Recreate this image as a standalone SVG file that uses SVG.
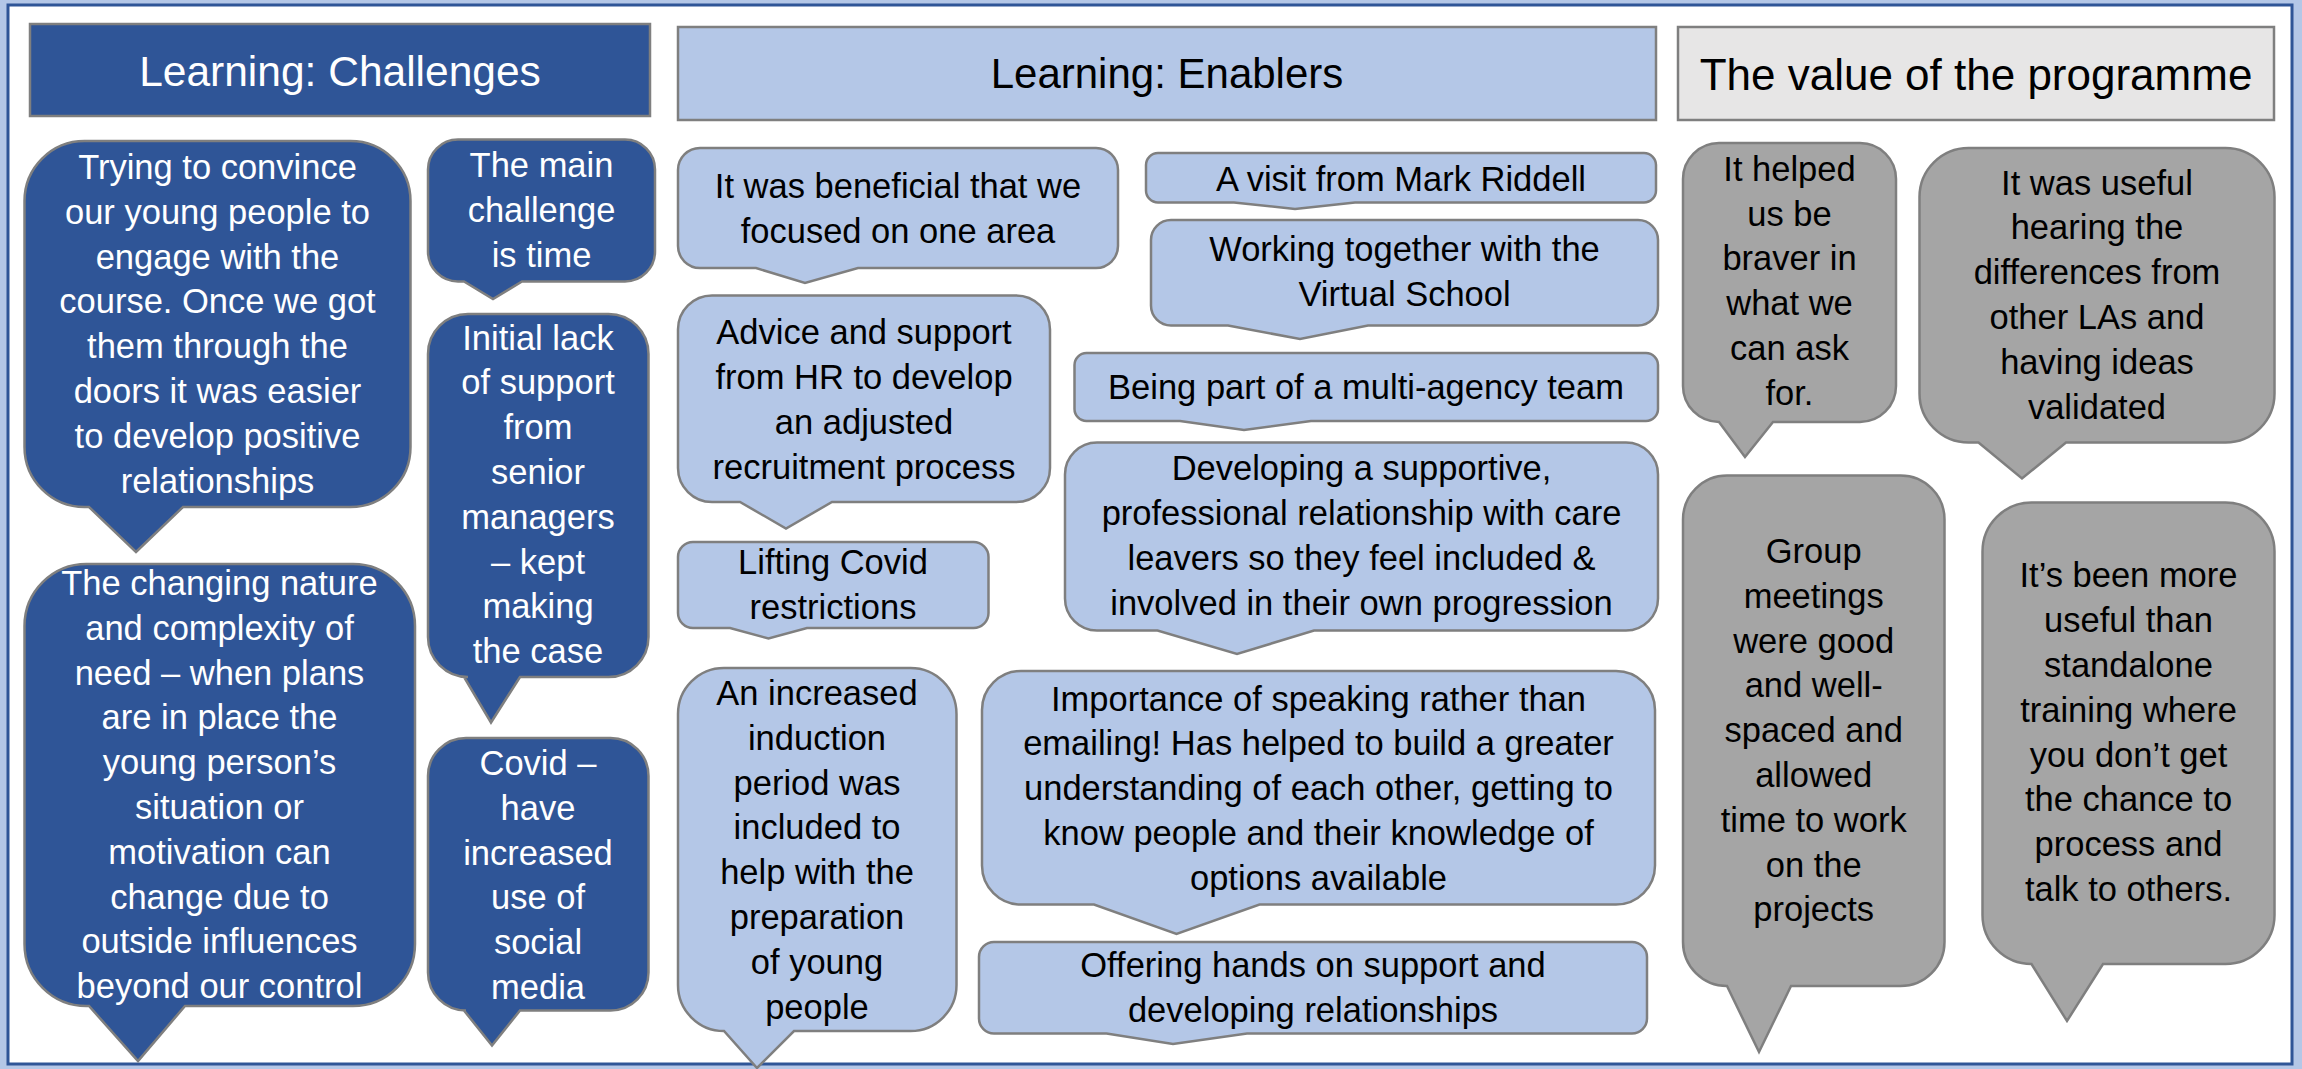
<svg xmlns="http://www.w3.org/2000/svg" width="2302" height="1069" viewBox="0 0 2302 1069">
<style>
.dk{fill:#2F5597;stroke:#7F7F7F;stroke-width:2.5}
.lt{fill:#B4C7E7;stroke:#7F7F7F;stroke-width:2.5}
.gy{fill:#A5A5A5;stroke:#7F7F7F;stroke-width:2.5}
.hg{fill:#E7E6E6;stroke:#7F7F7F;stroke-width:2.5}
text{font-family:"Liberation Sans",Arial,sans-serif;font-size:34.5px;text-anchor:middle;fill:#000}
.w{fill:#FFFFFF}
</style>
<rect x="0" y="0" width="2302" height="1069" fill="#B4C7E7"/>
<rect x="8" y="5" width="2284" height="1059" fill="#FFFFFF" stroke="#2F5597" stroke-width="3"/>
<g id="connectors"/>
<g id="header-challenges">
<rect class="dk" x="30" y="24" width="620" height="92"/>
<text class="w" x="340" y="86" style="font-size:42.5px">Learning: Challenges</text>
</g>
<g id="header-enablers">
<rect class="lt" x="678" y="27" width="978" height="93"/>
<text x="1167" y="88" style="font-size:42px">Learning: Enablers</text>
</g>
<g id="header-value">
<rect class="hg" x="1678" y="27" width="596" height="93"/>
<text x="1976" y="90" style="font-size:44px">The value of the programme</text>
</g>
<g id="c1">
<path class="dk" d="M84.5,141 H350.5 A60,60 0 0 1 410.5,201 V447 A60,60 0 0 1 350.5,507 H183 L136,552 L89,507 H84.5 A60,60 0 0 1 24.5,447 V201 A60,60 0 0 1 84.5,141 Z"/>
<text class="w"><tspan x="217.5" y="179">Trying to convince</tspan><tspan x="217.5" y="223.8">our young people to</tspan><tspan x="217.5" y="268.6">engage with the</tspan><tspan x="217.5" y="313.4">course. Once we got</tspan><tspan x="217.5" y="358.2">them through the</tspan><tspan x="217.5" y="403">doors it was easier</tspan><tspan x="217.5" y="447.8">to develop positive</tspan><tspan x="217.5" y="492.6">relationships</tspan></text>
</g>
<g id="c2">
<path class="dk" d="M458,139.5 H625 A30,30 0 0 1 655,169.5 V251.5 A30,30 0 0 1 625,281.5 H522 L493,299 L464,281.5 H458 A30,30 0 0 1 428,251.5 V169.5 A30,30 0 0 1 458,139.5 Z"/>
<text class="w"><tspan x="541.5" y="177">The main</tspan><tspan x="541.5" y="222">challenge</tspan><tspan x="541.5" y="267">is time</tspan></text>
</g>
<g id="c3">
<path class="dk" d="M468,314 H608.5 A40,40 0 0 1 648.5,354 V637 A40,40 0 0 1 608.5,677 H520 L491,722.5 L464,677 H468 A40,40 0 0 1 428,637 V354 A40,40 0 0 1 468,314 Z"/>
<text class="w"><tspan x="538" y="349.6">Initial lack</tspan><tspan x="538" y="394.4">of support</tspan><tspan x="538" y="439.2">from</tspan><tspan x="538" y="484">senior</tspan><tspan x="538" y="528.8">managers</tspan><tspan x="538" y="573.6">– kept</tspan><tspan x="538" y="618.4">making</tspan><tspan x="538" y="663.2">the case</tspan></text>
</g>
<g id="c4">
<path class="dk" d="M86.5,564 H353 A62,62 0 0 1 415,626 V944 A62,62 0 0 1 353,1006 H185 L138,1061 L89,1006 H86.5 A62,62 0 0 1 24.5,944 V626 A62,62 0 0 1 86.5,564 Z"/>
<text class="w"><tspan x="219.5" y="595">The changing nature</tspan><tspan x="219.5" y="639.8">and complexity of</tspan><tspan x="219.5" y="684.6">need – when plans</tspan><tspan x="219.5" y="729.4">are in place the</tspan><tspan x="219.5" y="774.2">young person’s</tspan><tspan x="219.5" y="819">situation or</tspan><tspan x="219.5" y="863.8">motivation can</tspan><tspan x="219.5" y="908.6">change due to</tspan><tspan x="219.5" y="953.4">outside influences</tspan><tspan x="219.5" y="998.2">beyond our control</tspan></text>
</g>
<g id="c5">
<path class="dk" d="M466,738 H610.5 A38,38 0 0 1 648.5,776 V972.5 A38,38 0 0 1 610.5,1010.5 H520 L492,1045.5 L464,1010.5 H466 A38,38 0 0 1 428,972.5 V776 A38,38 0 0 1 466,738 Z"/>
<text class="w"><tspan x="538" y="775">Covid –</tspan><tspan x="538" y="819.8">have</tspan><tspan x="538" y="864.6">increased</tspan><tspan x="538" y="909.4">use of</tspan><tspan x="538" y="954.2">social</tspan><tspan x="538" y="999">media</tspan></text>
</g>
<g id="e1">
<path class="lt" d="M700,148 H1096 A22,22 0 0 1 1118,170 V246 A22,22 0 0 1 1096,268 H858 L805,283 L756,268 H700 A22,22 0 0 1 678,246 V170 A22,22 0 0 1 700,148 Z"/>
<text><tspan x="898" y="198">It was beneficial that we</tspan><tspan x="898" y="243">focused on one area</tspan></text>
</g>
<g id="e2">
<path class="lt" d="M1158,153 H1644 A12,12 0 0 1 1656,165 V190.5 A12,12 0 0 1 1644,202.5 H1355 L1295,209 L1234,202.5 H1158 A12,12 0 0 1 1146,190.5 V165 A12,12 0 0 1 1158,153 Z"/>
<text x="1401" y="191">A visit from Mark Riddell</text>
</g>
<g id="e3">
<path class="lt" d="M1171,220 H1638 A20,20 0 0 1 1658,240 V305.5 A20,20 0 0 1 1638,325.5 H1368 L1300,339 L1228,325.5 H1171 A20,20 0 0 1 1151,305.5 V240 A20,20 0 0 1 1171,220 Z"/>
<text><tspan x="1404.5" y="260.7">Working together with the</tspan><tspan x="1404.5" y="305.5">Virtual School</tspan></text>
</g>
<g id="e4">
<path class="lt" d="M1086.5,353 H1646 A12,12 0 0 1 1658,365 V409 A12,12 0 0 1 1646,421 H1311 L1244,430 L1180,421 H1086.5 A12,12 0 0 1 1074.5,409 V365 A12,12 0 0 1 1086.5,353 Z"/>
<text x="1366" y="399">Being part of a multi-agency team</text>
</g>
<g id="e5">
<path class="lt" d="M1097,442.5 H1626 A32,32 0 0 1 1658,474.5 V598.5 A32,32 0 0 1 1626,630.5 H1314 L1237,654 L1157.5,630.5 H1097 A32,32 0 0 1 1065,598.5 V474.5 A32,32 0 0 1 1097,442.5 Z"/>
<text><tspan x="1361.5" y="480.4">Developing a supportive,</tspan><tspan x="1361.5" y="525.2">professional relationship with care</tspan><tspan x="1361.5" y="570">leavers so they feel included &amp;</tspan><tspan x="1361.5" y="614.8">involved in their own progression</tspan></text>
</g>
<g id="e6">
<path class="lt" d="M712,295.5 H1016 A34,34 0 0 1 1050,329.5 V468 A34,34 0 0 1 1016,502 H832 L786,528.5 L740,502 H712 A34,34 0 0 1 678,468 V329.5 A34,34 0 0 1 712,295.5 Z"/>
<text><tspan x="864" y="344.4">Advice and support</tspan><tspan x="864" y="389.2">from HR to develop</tspan><tspan x="864" y="434">an adjusted</tspan><tspan x="864" y="478.8">recruitment process</tspan></text>
</g>
<g id="e7">
<path class="lt" d="M693,542 H973.5 A15,15 0 0 1 988.5,557 V613 A15,15 0 0 1 973.5,628 H807 L768.5,638.5 L730,628 H693 A15,15 0 0 1 678,613 V557 A15,15 0 0 1 693,542 Z"/>
<text><tspan x="833" y="574">Lifting Covid</tspan><tspan x="833" y="619">restrictions</tspan></text>
</g>
<g id="e8">
<path class="lt" d="M724,668 H910.5 A46,46 0 0 1 956.5,714 V985 A46,46 0 0 1 910.5,1031 H794 L757,1068 L724,1031 A46,46 0 0 1 678,985 V714 A46,46 0 0 1 724,668 Z"/>
<text><tspan x="817" y="705">An increased</tspan><tspan x="817" y="749.8">induction</tspan><tspan x="817" y="794.6">period was</tspan><tspan x="817" y="839.4">included to</tspan><tspan x="817" y="884.2">help with the</tspan><tspan x="817" y="929">preparation</tspan><tspan x="817" y="973.8">of young</tspan><tspan x="817" y="1018.6">people</tspan></text>
</g>
<g id="e9">
<path class="lt" d="M1021,671 H1616 A39,39 0 0 1 1655,710 V865.5 A39,39 0 0 1 1616,904.5 H1259.5 L1176.5,934 L1094,904.5 H1021 A39,39 0 0 1 982,865.5 V710 A39,39 0 0 1 1021,671 Z"/>
<text><tspan x="1318.5" y="710.5">Importance of speaking rather than</tspan><tspan x="1318.5" y="755.3">emailing! Has helped to build a greater</tspan><tspan x="1318.5" y="800.1">understanding of each other, getting to</tspan><tspan x="1318.5" y="844.9">know people and their knowledge of</tspan><tspan x="1318.5" y="889.7">options available</tspan></text>
</g>
<g id="e10">
<path class="lt" d="M994,942 H1632 A15,15 0 0 1 1647,957 V1018.5 A15,15 0 0 1 1632,1033.5 H1247 L1173,1044 L1106.5,1033.5 H994 A15,15 0 0 1 979,1018.5 V957 A15,15 0 0 1 994,942 Z"/>
<text><tspan x="1313" y="977">Offering hands on support and</tspan><tspan x="1313" y="1021.8">developing relationships</tspan></text>
</g>
<g id="v1">
<path class="gy" d="M1719,143 H1860 A36,36 0 0 1 1896,179 V386 A36,36 0 0 1 1860,422 H1773 L1745,457 L1719,422 A36,36 0 0 1 1683,386 V179 A36,36 0 0 1 1719,143 Z"/>
<text><tspan x="1789.5" y="180.8">It helped</tspan><tspan x="1789.5" y="225.6">us be</tspan><tspan x="1789.5" y="270.4">braver in</tspan><tspan x="1789.5" y="315.2">what we</tspan><tspan x="1789.5" y="360">can ask</tspan><tspan x="1789.5" y="404.8">for.</tspan></text>
</g>
<g id="v2">
<path class="gy" d="M1968.5,148 H2225.5 A49,49 0 0 1 2274.5,197 V393.5 A49,49 0 0 1 2225.5,442.5 H2066 L2022,478.5 L1978.5,442.5 H1968.5 A49,49 0 0 1 1919.5,393.5 V197 A49,49 0 0 1 1968.5,148 Z"/>
<text><tspan x="2097" y="194.6">It was useful</tspan><tspan x="2097" y="239.4">hearing the</tspan><tspan x="2097" y="284.2">differences from</tspan><tspan x="2097" y="329">other LAs and</tspan><tspan x="2097" y="373.8">having ideas</tspan><tspan x="2097" y="418.6">validated</tspan></text>
</g>
<g id="v3">
<path class="gy" d="M1727,475.5 H1900.5 A44,44 0 0 1 1944.5,519.5 V942 A44,44 0 0 1 1900.5,986 H1791 L1759,1052 L1727,986 A44,44 0 0 1 1683,942 V519.5 A44,44 0 0 1 1727,475.5 Z"/>
<text><tspan x="1813.7" y="563">Group</tspan><tspan x="1813.7" y="607.8">meetings</tspan><tspan x="1813.7" y="652.6">were good</tspan><tspan x="1813.7" y="697.4">and well-</tspan><tspan x="1813.7" y="742.2">spaced and</tspan><tspan x="1813.7" y="787">allowed</tspan><tspan x="1813.7" y="831.8">time to work</tspan><tspan x="1813.7" y="876.6">on the</tspan><tspan x="1813.7" y="921.4">projects</tspan></text>
</g>
<g id="v4">
<path class="gy" d="M2031.5,502.5 H2225.5 A49,49 0 0 1 2274.5,551.5 V915 A49,49 0 0 1 2225.5,964 H2103 L2067,1021 L2031.5,964 A49,49 0 0 1 1982.5,915 V551.5 A49,49 0 0 1 2031.5,502.5 Z"/>
<text><tspan x="2128.5" y="587.4">It’s been more</tspan><tspan x="2128.5" y="632.2">useful than</tspan><tspan x="2128.5" y="677">standalone</tspan><tspan x="2128.5" y="721.8">training where</tspan><tspan x="2128.5" y="766.6">you don’t get</tspan><tspan x="2128.5" y="811.4">the chance to</tspan><tspan x="2128.5" y="856.2">process and</tspan><tspan x="2128.5" y="901">talk to others.</tspan></text>
</g>
</svg>
